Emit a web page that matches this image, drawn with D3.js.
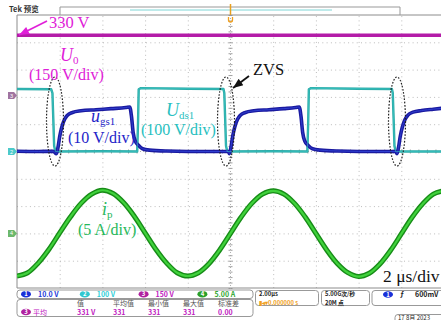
<!DOCTYPE html>
<html>
<head>
<meta charset="utf-8">
<script src="https://cdn.jsdelivr.net/npm/d3@7"></script>
<style>
body{margin:0;background:#fff;}
svg{display:block;font-family:"Liberation Serif","Times New Roman",serif;}
.grid line{stroke:#bcbcbc;stroke-dasharray:1,3.3;}
.grid path{display:none;}
.ctick line{stroke:#a0a0a0;}
.ctick path{display:none;}
.ui{font-family:"Noto Sans CJK SC","Noto Sans",sans-serif;font-size:7px;font-weight:bold;}
</style>
</head>
<body>
<div id="scope"></div>
<script>
// scope settings
var chNames=['1','2','3','4'];
var chColors=['#1a30d8','#30c8d0','#b0209f','#2aa02a'];
var chScales=['10.0 V','100 V','150 V','5.00 A'];
var chPerDiv=[10,100,150,5];
var chOffsetDiv=[0,0,2.05,-3];
var measHeads=['值','平均值','最小值','最大值','标准差'];
var measVals=['331 V','331','331','331','0.00'];

// U0 (V), flat line
var u0=[[-10,331],[-5,331],[0,331],[5,331],[10,331]];

// ugs1 (V) vs time (us)
var ugs=[[-10,0.1],[-9,0],[-8.3,0.1],[-8.15,-0.8],[-8.08,1.5],[-8.0,5.5],[-7.9,9.0],[-7.77,11.8],[-7.65,13.2],
  [-7.4,14.3],[-7.0,14.9],[-6.3,15.3],[-5.6,15.7],[-4.9,16.1],[-4.72,16.3],[-4.64,13.0],[-4.56,7.0],[-4.46,3.8],
  [-4.3,2.2],[-4.12,1.0],[-3.8,0.5],[-3.0,0.2],[-1.0,0],[-0.1,0],
  [-0.05,-0.8],[0.02,1.5],[0.1,5.5],[0.2,9.0],[0.33,11.8],[0.45,13.2],[0.7,14.3],[1.1,14.9],[1.8,15.3],[2.5,15.7],
  [3.05,16.1],[3.22,16.3],[3.3,13.0],[3.38,7.0],[3.48,3.8],[3.64,2.2],[3.84,1.0],[4.2,0.5],[5.0,0.2],[7.0,0],[7.74,0],
  [7.8,-0.8],[7.87,1.5],[7.95,5.5],[8.05,9.0],[8.18,11.8],[8.3,13.2],[8.55,14.4],[8.95,15.0],[9.5,15.5],[10,15.9]];

// Uds1 (V) vs time (us)
var uds=[[-10,229],[-8.4,228],[-8.34,214],[-8.3,120],[-8.26,20],[-8.2,0],[-6,1],[-4.37,0],[-4.33,110],[-4.3,228],
  [-4.2,232],[-2,230],[-0.33,229],[-0.29,214],[-0.25,120],[-0.21,20],[-0.15,0],[2,1],[3.6,0],[3.64,110],[3.67,228],
  [3.77,232],[6,230],[7.56,229],[7.6,214],[7.64,120],[7.68,20],[7.74,0],[10,0]];

// ip (A) vs time (us)
var ip=[[-10,-7.8],[-9.5,-7.2],[-9,-5.4],[-8.5,-2.9],[-8,0.1],[-7.5,3.0],[-7,5.5],[-6.5,7.2],[-6,7.9],[-5.5,7.3],
  [-5,5.6],[-4.5,3.1],[-4,0.1],[-3.5,-2.9],[-3,-5.4],[-2.5,-7.2],[-2,-7.8],[-1.5,-7.2],[-1,-5.5],[-0.5,-3.0],
  [0,0],[0.5,3.0],[1,5.5],[1.5,7.2],[2,7.8],[2.5,7.2],[3,5.5],[3.5,3.0],[4,0],[4.5,-3.0],[5,-5.5],[5.5,-7.2],
  [6,-7.9],[6.5,-7.3],[7,-5.6],[7.5,-3.1],[8,-0.1],[8.5,2.9],[9,5.4],[9.5,7.2],[10,7.8]];

var W=441,H=320;
var plot={left:17,top:15,right:444,bottom:288};
var divPx=(plot.bottom-plot.top)/10;
var midY=(plot.top+plot.bottom)/2;

var svg=d3.select('#scope').append('svg')
    .attr('width',W)
    .attr('height',H);

var x=d3.scaleLinear().domain([-10,10]).range([plot.left,plot.right]);
var yDiv=d3.scaleLinear().domain([-5,5]).range([plot.bottom,plot.top]);

function chY(i){
    var y0=midY-chOffsetDiv[i]*divPx;
    return d3.scaleLinear().domain([0,chPerDiv[i]]).range([y0,y0-divPx]);
}

svg.append('clipPath').attr('id','clip')
    .append('rect')
    .attr('x',plot.left).attr('y',plot.top)
    .attr('width',W-plot.left).attr('height',plot.bottom-plot.top);

// graticule
svg.append('g')
    .attr('class','grid')
    .attr('transform','translate(0,'+plot.bottom+')')
    .call(d3.axisBottom(x).tickValues([-8,-6,-4,-2,2,4,6,8]).tickSize(-(plot.bottom-plot.top)).tickFormat(''));
svg.append('g')
    .attr('class','grid')
    .attr('transform','translate('+plot.left+',0)')
    .call(d3.axisLeft(yDiv).tickValues([-4,-3,-2,-1,1,2,3,4]).tickSize(-(W-plot.left)).tickFormat(''));

// centre cross with minor ticks
var minorT=d3.range(-10,10.01,0.4);
var minorD=d3.range(-5,5.01,0.2);
svg.append('line').attr('x1',plot.left).attr('x2',W).attr('y1',midY).attr('y2',midY)
    .attr('stroke','#b0b0b0').attr('stroke-dasharray','1,2');
svg.append('line').attr('x1',x(0)).attr('x2',x(0)).attr('y1',plot.top).attr('y2',plot.bottom)
    .attr('stroke','#b0b0b0').attr('stroke-dasharray','1,2');
svg.append('g').attr('class','ctick').attr('transform','translate(0,'+midY+')')
    .call(d3.axisBottom(x).tickValues(minorT).tickSize(2).tickFormat(''));
svg.append('g').attr('class','ctick').attr('transform','translate(0,'+midY+')')
    .call(d3.axisTop(x).tickValues(minorT).tickSize(2).tickFormat(''));
svg.append('g').attr('class','ctick').attr('transform','translate('+x(0)+',0)')
    .call(d3.axisLeft(yDiv).tickValues(minorD).tickSize(2).tickFormat(''));
svg.append('g').attr('class','ctick').attr('transform','translate('+x(0)+',0)')
    .call(d3.axisRight(yDiv).tickValues(minorD).tickSize(2).tickFormat(''));

// frame
svg.append('path')
    .attr('d','M'+W+','+plot.top+'H'+plot.left+'V'+plot.bottom+'H'+W)
    .attr('fill','none').attr('stroke','#8c8c8c').attr('stroke-width',1);

// traces
var traces=svg.append('g').attr('clip-path','url(#clip)');
function trace(data,i,curve,color,width){
    var yy=chY(i);
    traces.append('path')
        .datum(data)
        .attr('fill','none')
        .attr('stroke',color)
        .attr('stroke-width',width)
        .attr('stroke-linejoin','round')
        .attr('d',d3.line().curve(curve)
            .x(function(d){return x(d[0]);})
            .y(function(d){return yy(d[1]);}));
}
trace(u0,2,d3.curveLinear,'#b41ca8',3.5);
trace(ip,3,d3.curveCatmullRom,'#178c17',5);
trace(ip,3,d3.curveCatmullRom,'#40d23c',2.2);
trace(uds,1,d3.curveLinear,'#2aaaa6',2.4);
trace(ugs,0,d3.curveMonotoneX,'#1a1aa0',3.6);
trace(ugs,0,d3.curveMonotoneX,'#2f3fd0',1);
trace(uds,1,d3.curveLinear,'rgba(60,200,200,0.55)',1.2);

// channel markers on the left
[2,1,3].forEach(function(i){
    var yy=chY(i)(0);
    var g=svg.append('g').attr('transform','translate('+(plot.left-9)+','+yy+')');
    var fill=i==2?'#a074a0':(i==1?'#4ccaca':'#6cb86c');
    g.append('path').attr('d','M0,-3.5h6l3,3.5l-3,3.5h-6z').attr('fill',fill);
    g.append('text').attr('x',3.5).attr('y',2).attr('text-anchor','middle')
        .attr('fill','#fff').style('font-size','5.5px').style('font-family','sans-serif').text(chNames[i]);
});

// top status bar
svg.append('text').attr('x',9).attr('y',12).attr('class','ui').attr('fill','#333').style('font-size','7.5px').text('Tek 预览');
svg.append('path').attr('d','M60,15V7H400V15').attr('fill','none').attr('stroke','#999');
svg.append('line').attr('x1',130).attr('x2',332).attr('y1',10).attr('y2',10).attr('stroke','#7fd6d6');
svg.append('line').attr('x1',x(0)).attr('x2',x(0)).attr('y1',4).attr('y2',15).attr('stroke','#e8a020').attr('stroke-width',1.5);
svg.append('path').attr('d','M'+(x(0)-2)+',17v3a2,2 0 0 0 4,0v-3').attr('fill','none').attr('stroke','#f0a020').attr('stroke-width',1.3);

// annotations
var ann=svg.append('g');
var defs=svg.append('defs');
function head(id,color){
    defs.append('marker').attr('id',id)
        .attr('viewBox','0 0 10 8').attr('refX',10).attr('refY',4)
        .attr('markerWidth',11).attr('markerHeight',8)
        .attr('markerUnits','userSpaceOnUse').attr('orient','auto')
        .append('path').attr('d','M0,0L10,4L0,8z').attr('fill',color);
}
head('hm','#e020d8');
head('hk','#111');
ann.append('line').attr('x1',47).attr('y1',21).attr('x2',19).attr('y2',35)
    .attr('stroke','#e020d8').attr('stroke-width',1.8).attr('marker-end','url(#hm)');
ann.append('line').attr('x1',249).attr('y1',76).attr('x2',233).attr('y2',88)
    .attr('stroke','#111').attr('stroke-width',1.8).attr('marker-end','url(#hk)');

[55,226,397].forEach(function(cx){
    ann.append('ellipse').attr('cx',cx).attr('cy',121.5).attr('rx',8.5).attr('ry',44.5)
        .attr('fill','none').attr('stroke','#222').attr('stroke-width',1.2).attr('stroke-dasharray','1.6,1.6');
});

function label(xp,yp,main,sub,color){
    var t=ann.append('text').attr('x',xp).attr('y',yp).attr('fill',color).style('font-size','18px');
    t.append('tspan').style('font-style','italic').text(main);
    t.append('tspan').attr('dy',3).style('font-size','11px').text(sub);
}
function plain(xp,yp,s,color,size){
    ann.append('text').attr('x',xp).attr('y',yp).attr('fill',color).style('font-size',(size||16)+'px').text(s);
}
plain(49,28,'330 V','#e020d8',16.5);
label(60,61,'U','0','#e020d8');
plain(29,80,'(150 V/div)','#e020d8');
label(91,122,'u','gs1','#2424c8');
plain(68,143,'(10 V/div)','#2424c8');
label(166,116,'U','ds1','#28c0c0');
plain(141,135,'(100 V/div)','#28c0c0');
label(102,215,'i','p','#26b85a');
plain(78,235,'(5 A/div)','#26b85a');
plain(253,75,'ZVS','#111',16.5);
plain(383,282,'2 μs/div','#111',17.5);

// bottom panel
var ui=svg.append('g').attr('class','ui');
function badge(cx,cy,i){
    ui.append('ellipse').attr('cx',cx).attr('cy',cy).attr('rx',5).attr('ry',3.3).attr('fill',chColors[i]);
    ui.append('text').attr('x',cx).attr('y',cy+2.2).attr('text-anchor','middle')
        .attr('fill','#fff').style('font-size','6px').text(chNames[i]);
}
ui.append('rect').attr('x',17).attr('y',290).attr('width',236).attr('height',8.5).attr('rx',3)
    .attr('fill','none').attr('stroke','#999');
var chTextColor=['#2038d8','#30d0d8','#c020c0','#30a830'];
chScales.forEach(function(s,i){
    var bx=26+i*58.8;
    badge(bx,294.2,i);
    ui.append('text').attr('x',bx+12).attr('y',296.8).attr('fill',chTextColor[i]).text(s);
});
ui.append('rect').attr('x',17).attr('y',299.5).attr('width',236).attr('height',17).attr('rx',3)
    .attr('fill','none').attr('stroke','#999');
var colX=[77,113,148,183,218];
measHeads.forEach(function(s,i){
    ui.append('text').attr('x',colX[i]).attr('y',306).attr('fill','#555').style('font-weight','normal').text(s);
});
badge(26,312,2);
ui.append('text').attr('x',33).attr('y',314.5).attr('fill','#c020c0').style('font-weight','normal').text('平均');
measVals.forEach(function(s,i){
    ui.append('text').attr('x',colX[i]).attr('y',314.5).attr('fill','#c020c0').text(s);
});

ui.append('rect').attr('x',255.5).attr('y',290.5).attr('width',63).attr('height',15).attr('rx',3)
    .attr('fill','none').attr('stroke','#999');
ui.append('text').attr('x',259).attr('y',296).attr('fill','#222').style('font-size','5.8px').text('2.00μs');
ui.append('text').attr('x',259).attr('y',304.5).attr('fill','#f0a020').style('font-size','5.8px').text('▮◂▾0.000000 s');
ui.append('rect').attr('x',321.5).attr('y',290.5).attr('width',48).attr('height',15).attr('rx',3)
    .attr('fill','none').attr('stroke','#999');
ui.append('text').attr('x',325).attr('y',296).attr('fill','#222').style('font-size','5.8px').text('5.00G次/秒');
ui.append('text').attr('x',325).attr('y',304.5).attr('fill','#222').style('font-size','5.8px').text('20M 点');
ui.append('rect').attr('x',372).attr('y',290.5).attr('width',80).attr('height',15).attr('rx',3)
    .attr('fill','none').attr('stroke','#999');
badge(388,294.5,0);
ui.append('text').attr('x',400).attr('y',297).attr('fill','#222').text('ƒ');
ui.append('text').attr('x',415).attr('y',297).attr('fill','#222').text('600mV');
ui.append('rect').attr('x',395).attr('y',314.5).attr('width',60).attr('height',10).attr('rx',3)
    .attr('fill','none').attr('stroke','#999');
ui.append('text').attr('x',398).attr('y',319.5).attr('fill','#222').style('font-weight','normal').style('font-size','6px').text('17 8月 2023');
</script>
</body>
</html>
